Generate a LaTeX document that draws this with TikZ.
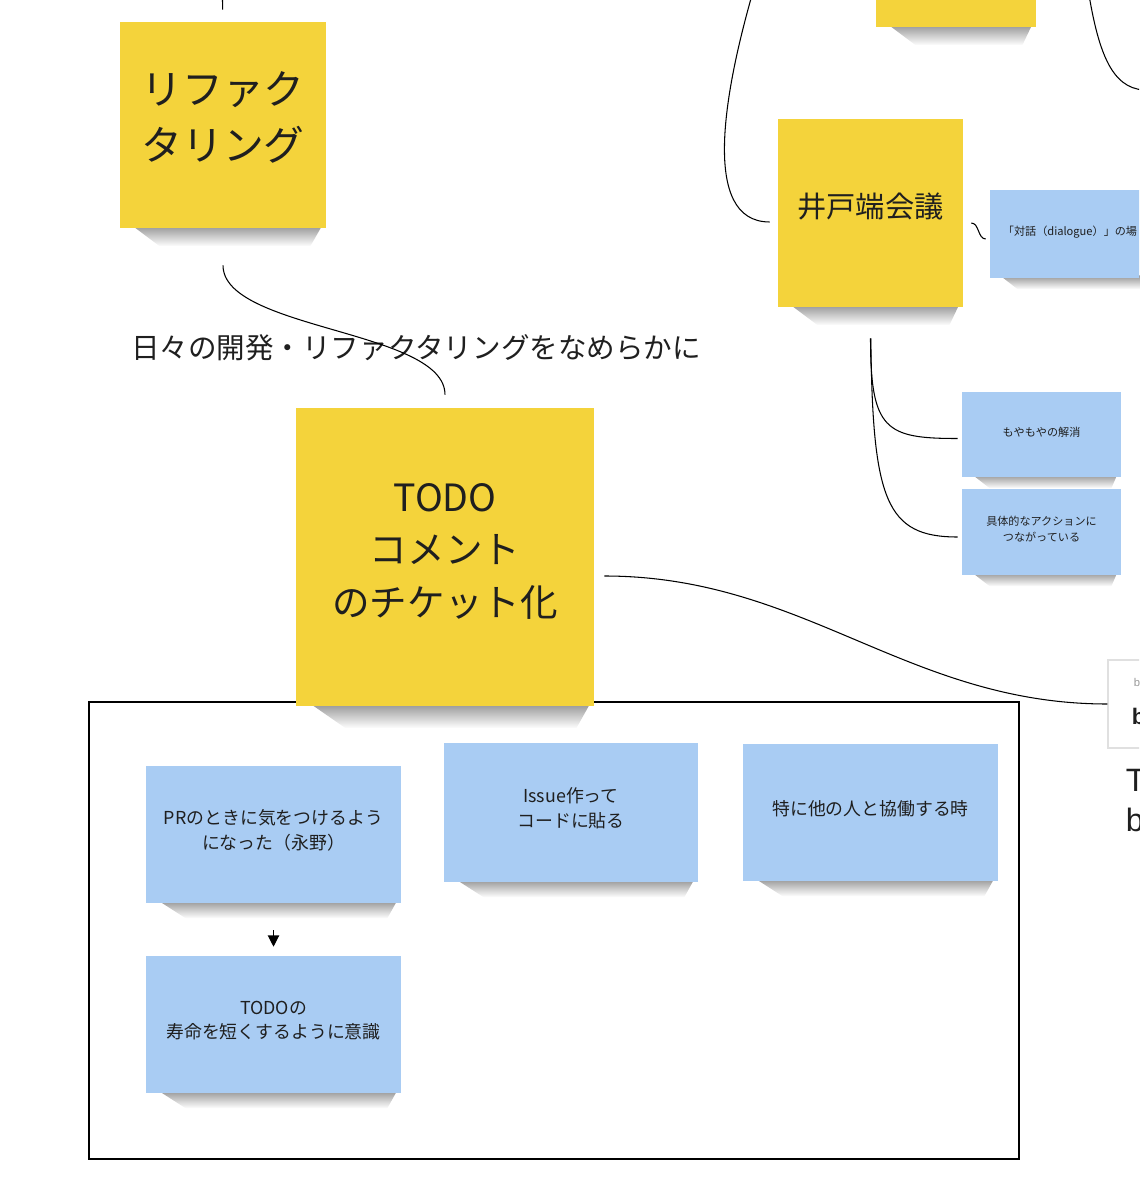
\documentclass[tikz,border=0pt]{standalone}
\usepackage{fontspec}
\setmainfont{Noto Sans CJK JP}
\newfontfamily\latinfont{Liberation Sans}
\usetikzlibrary{fadings,arrows.meta}
\newcommand{\pxl}{0.025cm}
\definecolor{stickyyellow}{HTML}{F4D33B}
\definecolor{stickyblue}{HTML}{A9CCF3}

\begin{document}
\begin{tikzpicture}[x=0.025cm, y=-0.025cm]
        \pgfdeclarelayer{shadowlayer}
        \pgfsetlayers{shadowlayer,main}
        \tikzstyle{yellow note}=[fill=stickyyellow, align=center, text=black!88, inner sep=0pt]
        \tikzstyle{blue note}=[fill=stickyblue, align=center, text=black!88, inner sep=0pt, text depth=7pt]
        \tikzstyle{note shadow}=[fill=black!42, path fading=south]
        \tikzstyle{label}=[fill=none, draw=none, text=black!88]
        \tikzstyle{link}=[line width=0.75pt]
        %\tikzstyle{link}=[line width=0.75pt, dotted]
        \tikzstyle{arrow}=[-{Triangle[width=8pt,length=8pt]}, line width=0.8pt]
        \useasboundingbox (0,0) rectangle (1139,1200);
        \clip (0,0) rectangle (1139,1200);

        % sticky notes
        \node [style=yellow note, minimum width=206*\pxl, minimum height=206*\pxl, text depth=13pt, font=\fontsize{29}{40}\selectfont] (1) at (223,125) {リファク\\タリング};
        \node [style=yellow note, minimum width=298*\pxl, minimum height=298*\pxl, text depth=10pt, font=\fontsize{26.7}{37.2}\selectfont] (2) at (445,557) {TODO\\コメント\\のチケット化};
        \node [style=yellow note, minimum width=160*\pxl, minimum height=160*\pxl] (3) at (956,-53) {};
        \node [style=yellow note, minimum width=185*\pxl, minimum height=188*\pxl, text depth=11pt, font=\fontsize{20.8}{28}\selectfont] (4) at (870.5,213) {井戸端会議};
        \node [style=label, font=\fontsize{20.3}{28}\selectfont] (5) at (416,348) {日々の開発・リファクタリングをなめらかに};

        \node [style=blue note, minimum width=255*\pxl, minimum height=137*\pxl, font=\fontsize{12.7}{17.4}\selectfont] (7) at (273.5,834.5) {PRのときに気をつけるよう\\になった（永野）};
        \node [style=blue note, minimum width=254*\pxl, minimum height=139*\pxl, font=\fontsize{12.7}{17.4}\selectfont] (8) at (571,812.5) {Issue作って\\コードに貼る};
        \node [style=blue note, minimum width=255*\pxl, minimum height=137*\pxl, font=\fontsize{12.7}{17.4}\selectfont] (9) at (870.5,812.5) {特に他の人と協働する時};
        \node [style=blue note, minimum width=255*\pxl, minimum height=137*\pxl, font=\fontsize{12.7}{17.4}\selectfont] (10) at (273.5,1024.5) {TODOの\\寿命を短くするように意識};

        \node [style=blue note, minimum width=160*\pxl, minimum height=88*\pxl, text depth=4pt, font=\fontsize{7.9}{11.3}\selectfont] (11) at (1070,234) {「対話（dialogue）」の場};
        \node [style=blue note, minimum width=159*\pxl, minimum height=85*\pxl, text depth=4pt, font=\fontsize{7.9}{11.3}\selectfont] (12) at (1041.5,434.5) {もやもやの解消};
        \node [style=blue note, minimum width=159*\pxl, minimum height=86*\pxl, text depth=4pt, font=\fontsize{7.9}{11.3}\selectfont] (13) at (1041.5,532) {具体的なアクションに\\つながっている};

        \node [draw=black!12, fill=white, line width=0.8pt, minimum width=90*\pxl, minimum height=88*\pxl] (14) at (1153,704) {};
        \node [style=label, anchor=west, text=black!40, font=\latinfont\fontsize{8}{10}\selectfont] (15) at (1129,682) {b};
        \node [style=label, anchor=west, font=\latinfont\bfseries\fontsize{16}{20}\selectfont] (16) at (1127,716) {b};
        \node [style=label, anchor=west, font=\latinfont\fontsize{23}{28}\selectfont] (17) at (1121,780) {T};
        \node [style=label, anchor=west, font=\latinfont\fontsize{23}{28}\selectfont] (18) at (1121,820) {b};

        \coordinate (c1) at (222,-20);
        \coordinate (c4) at (752,-5);
        \coordinate (c5a) at (1089,-5);
        \coordinate (c5b) at (1150,90);

        % connectors
        \draw [style=link, shorten >=12*\pxl] (c1) -- (1.north);
        \draw [style=link, shorten <=37*\pxl, shorten >=13*\pxl] (1.south) .. controls +(0,102) and +(0,-78) .. (2.north);
        \draw [style=link] ([shift={(10,19)}]2.east) .. controls +(200,0) and +(-200,0) .. (14.west);
        \draw [style=link] (c4) .. controls +(-27,95) and +(-70,0) .. ([shift={(-8,9)}]4.west);
        \draw [style=link] (c5a) .. controls +(11,65) and +(-35,2) .. (c5b);
        \draw [style=link] ([shift={(8,10)}]4.east) .. controls +(8,0) and +(-8,0) .. ([shift={(-4,5)}]11.west);
        \draw [style=link, shorten <=31*\pxl] (4.south) .. controls +(0,123) and +(-72,0) .. ([shift={(-4,4)}]12.west);
        \draw [style=link, shorten <=31*\pxl] (4.south) .. controls +(2,193) and +(-72,0) .. ([shift={(-4,5)}]13.west);
        \draw [style=arrow, shorten <=27*\pxl, shorten >=9*\pxl] (7.south) -- (10.north);

        \begin{pgfonlayer}{shadowlayer}
            % frame
            \draw [line width=1.4pt] (89,702) rectangle (1019,1159);
            \fill [style=note shadow] ([shift={(12,-3)}]1.south west) -- ([shift={(-4,-3)}]1.south east) -- ([shift={(-16,18)}]1.south east) -- ([shift={(40,18)}]1.south west) -- cycle;
            \fill [style=note shadow] ([shift={(14,-3)}]2.south west) -- ([shift={(-4,-3)}]2.south east) -- ([shift={(-18,22)}]2.south east) -- ([shift={(50,22)}]2.south west) -- cycle;
            \fill [style=note shadow] ([shift={(12,-3)}]3.south west) -- ([shift={(-4,-3)}]3.south east) -- ([shift={(-14,18)}]3.south east) -- ([shift={(40,18)}]3.south west) -- cycle;
            \fill [style=note shadow] ([shift={(12,-3)}]4.south west) -- ([shift={(-4,-3)}]4.south east) -- ([shift={(-14,18)}]4.south east) -- ([shift={(40,18)}]4.south west) -- cycle;
            \fill [style=note shadow] ([shift={(12,-3)}]7.south west) -- ([shift={(-4,-3)}]7.south east) -- ([shift={(-14,15)}]7.south east) -- ([shift={(40,15)}]7.south west) -- cycle;
            \fill [style=note shadow] ([shift={(12,-3)}]8.south west) -- ([shift={(-4,-3)}]8.south east) -- ([shift={(-14,15)}]8.south east) -- ([shift={(40,15)}]8.south west) -- cycle;
            \fill [style=note shadow] ([shift={(12,-3)}]9.south west) -- ([shift={(-4,-3)}]9.south east) -- ([shift={(-14,15)}]9.south east) -- ([shift={(40,15)}]9.south west) -- cycle;
            \fill [style=note shadow] ([shift={(12,-3)}]10.south west) -- ([shift={(-4,-3)}]10.south east) -- ([shift={(-14,15)}]10.south east) -- ([shift={(40,15)}]10.south west) -- cycle;
            \fill [style=note shadow] ([shift={(10,-3)}]11.south west) -- ([shift={(-4,-3)}]11.south east) -- ([shift={(-10,11)}]11.south east) -- ([shift={(28,11)}]11.south west) -- cycle;
            \fill [style=note shadow] ([shift={(10,-3)}]12.south west) -- ([shift={(-4,-3)}]12.south east) -- ([shift={(-10,11)}]12.south east) -- ([shift={(28,11)}]12.south west) -- cycle;
            \fill [style=note shadow] ([shift={(10,-3)}]13.south west) -- ([shift={(-4,-3)}]13.south east) -- ([shift={(-10,11)}]13.south east) -- ([shift={(28,11)}]13.south west) -- cycle;
        \end{pgfonlayer}
\end{tikzpicture}
\end{document}
